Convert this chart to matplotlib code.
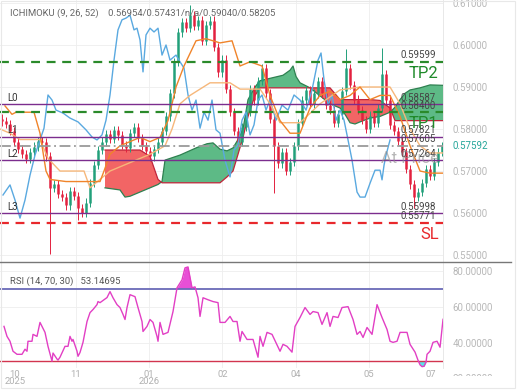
import numpy as np
import matplotlib.pyplot as plt
from matplotlib.lines import Line2D
from matplotlib.patches import Rectangle
from matplotlib.transforms import Bbox, TransformedBbox, blended_transform_factory

plt.rcParams['font.family'] = ['Roboto', 'DejaVu Sans']

# ---------------- data ----------------
first_open = 0.5825
closes = [0.5818, 0.5812, 0.5795, 0.5770, 0.5752, 0.5740, 0.5728, 0.5745, 0.5758, 0.5772,
          0.5768, 0.5735, 0.5660, 0.5668, 0.5645, 0.5638, 0.5618, 0.5652, 0.5640, 0.5612,
          0.5600, 0.5625, 0.5672, 0.5715, 0.5750, 0.5770, 0.5788, 0.5776, 0.5798, 0.5785,
          0.5762, 0.5755, 0.5790, 0.5805, 0.5778, 0.5760, 0.5748, 0.5735, 0.5752, 0.5770,
          0.5795, 0.5830, 0.5885, 0.5960, 0.6030, 0.6055, 0.6040, 0.6072, 0.6045, 0.6060,
          0.6010, 0.6048, 0.6058, 0.5995, 0.5935, 0.5965, 0.5895, 0.5840, 0.5795, 0.5770,
          0.5805, 0.5840, 0.5895, 0.5868, 0.5915, 0.5945, 0.5885, 0.5825, 0.5760, 0.5718,
          0.5745, 0.5700, 0.5722, 0.5760, 0.5815, 0.5868, 0.5892, 0.5860, 0.5885, 0.5915,
          0.5885, 0.5858, 0.5845, 0.5815, 0.5835, 0.5890, 0.5945, 0.5905, 0.5870, 0.5845,
          0.5822, 0.5800, 0.5832, 0.5815, 0.5850, 0.5930, 0.5870, 0.5810, 0.5795, 0.5772,
          0.5745, 0.5705, 0.5668, 0.5638, 0.5650, 0.5672, 0.5705, 0.5688, 0.5722, 0.5745,
          0.5759]
high_idx = [47, 86, 95]
high_val = [0.6095, 0.5990, 0.5992]
low_idx = [12, 19, 68, 103]
low_val = [0.5502, 0.5583, 0.5648, 0.5612]

tenkan_x = [1.25, 3, 4, 8.5, 10, 11.5, 12.5, 16.5, 25, 26, 27.5, 30, 35, 37.5, 40, 42, 44, 46,
            49, 51.5, 55, 58, 60, 62.5, 65.5, 67.5, 70, 72.5, 75, 77.5, 80, 82.5, 85, 87.5,
            90, 92.5, 95, 97.5, 100, 102.5, 105, 107.5, 110.75]
tenkan_y = [0.5855, 0.5835, 0.5840, 0.5840, 0.5790, 0.5700, 0.5680, 0.5675, 0.5675, 0.5700,
            0.5740, 0.5760, 0.5780, 0.5770, 0.5780, 0.5820, 0.5900, 0.5950, 0.6010, 0.6015,
            0.6005, 0.6010, 0.5950, 0.5960, 0.5950, 0.5880, 0.5820, 0.5790, 0.5790, 0.5850,
            0.5880, 0.5890, 0.5870, 0.5880, 0.5900, 0.5870, 0.5880, 0.5880, 0.5830, 0.5760,
            0.5700, 0.5695, 0.5695]

kijun_x = [0, 2.5, 5, 10, 12, 15, 21, 22.5, 25, 27.5, 32.5, 37.5, 41.25, 43, 45, 47.5, 52.5,
           57.5, 60, 65, 67.5, 70, 75, 80, 85, 90, 97.5, 100, 102.5, 105, 107.5, 110.75]
kijun_y = [0.5800, 0.5790, 0.5775, 0.5775, 0.5730, 0.5700, 0.5700, 0.5660, 0.5680, 0.5700,
           0.5720, 0.5740, 0.5760, 0.5800, 0.5860, 0.5880, 0.5910, 0.5910, 0.5895, 0.5895,
           0.5860, 0.5815, 0.5815, 0.5860, 0.5893, 0.5900, 0.5900, 0.5860, 0.5800, 0.5760,
           0.5743, 0.5743]

chikou_x = [0.75, 2.5, 3.75, 5, 6.25, 7.5, 8.75, 10, 11, 12, 13, 14, 15.75, 17.5, 19.5, 21.5,
            23, 24.25, 25.5, 26.5, 27.5, 28.5, 29.5, 30.5, 31.5, 32.5, 33.5, 34.25, 35, 35.75,
            36.5, 37.5, 38.5, 39.5, 40.5, 41.5, 42.5, 44, 45, 46, 47, 48, 49, 50, 51, 52, 53,
            54, 55, 56.25, 57.5, 58.5, 59.5, 60.5, 61.5, 62.5, 63.5, 64.5, 65.5, 66.5, 67.5,
            69, 70.5, 72, 73.5, 75, 76.5, 78, 79.5, 80.25, 81, 82, 83, 84, 85, 86, 87, 88,
            89.25, 90, 91.25, 92.5, 93.75, 95, 95.5, 96, 96.5, 97.5]
chikou_y = [0.5643, 0.5667, 0.5631, 0.5588, 0.5631, 0.5690, 0.5738, 0.5774, 0.5802, 0.5881,
            0.5869, 0.5845, 0.5838, 0.5826, 0.5817, 0.5798, 0.5781, 0.5774, 0.5786, 0.5821,
            0.5881, 0.5964, 0.6036, 0.6060, 0.6064, 0.6071, 0.6036, 0.6040, 0.6012, 0.5936,
            0.6024, 0.6040, 0.6031, 0.6040, 0.5976, 0.6000, 0.5964, 0.5976, 0.5960, 0.5945,
            0.5881, 0.5845, 0.5869, 0.5802, 0.5840, 0.5821, 0.5869, 0.5798, 0.5790, 0.5726,
            0.5686, 0.5750, 0.5762, 0.5821, 0.5840, 0.5786, 0.5810, 0.5869, 0.5881, 0.5845,
            0.5869, 0.5821, 0.5857, 0.5845, 0.5881, 0.5869, 0.5845, 0.5893, 0.5964, 0.5981,
            0.5917, 0.5857, 0.5881, 0.5821, 0.5845, 0.5821, 0.5774, 0.5726, 0.5650, 0.5638,
            0.5638, 0.5671, 0.5702, 0.5702, 0.5679, 0.5714, 0.5738, 0.5774]

cloud_x = [26.25, 30, 31.25, 32.5, 35, 37.5, 39.5, 40.5, 41.25, 45, 49.25, 51.75, 53.25, 55,
           56.75, 58.25, 59.5, 60.75, 62, 63.75, 65, 70.75, 72.5, 73.25, 74, 75, 77.5, 80,
           82.5, 85, 86.25, 87.5, 88.75, 90, 92.5, 95, 97.5, 98.75, 100, 101.25, 102.5, 105,
           107.5, 110.75]
span_a = [0.5660, 0.5655, 0.5638, 0.5640, 0.5650, 0.5660, 0.5668, 0.5675, 0.5726, 0.5738,
          0.5756, 0.5765, 0.5767, 0.5752, 0.5748, 0.5755, 0.5775, 0.5800, 0.5870, 0.5900,
          0.5915, 0.5928, 0.5940, 0.5950, 0.5925, 0.5910, 0.5898, 0.5879, 0.5860, 0.5850,
          0.5835, 0.5815, 0.5812, 0.5817, 0.5826, 0.5830, 0.5840, 0.5852, 0.5870, 0.5885,
          0.5893, 0.5898, 0.5905, 0.5904]
span_b = [0.5750, 0.5750, 0.5750, 0.5750, 0.5750, 0.5735, 0.5680, 0.5672, 0.5672, 0.5672,
          0.5672, 0.5672, 0.5672, 0.5672, 0.5686, 0.5700, 0.5740, 0.5780, 0.5830, 0.5880,
          0.5898, 0.5898, 0.5898, 0.5898, 0.5898, 0.5898, 0.5898, 0.5898, 0.5898, 0.5870,
          0.5870, 0.5870, 0.5870, 0.5870, 0.5870, 0.5868, 0.5850, 0.5820, 0.5820, 0.5820,
          0.5820, 0.5820, 0.5820, 0.5820]

level_names = ['L0', 'L1', 'L2', 'L3']
level_vals = [0.58587, 0.57821, 0.57264, 0.55998]
tp_names = ['TP2', 'TP1']
tp_vals = [0.59599, 0.58400]
sl_val = 0.55771
at_price = 0.57605
last_price = 0.57592
header = 'ICHIMOKU (9, 26, 52)    0.56954/0.57431/n/a/0.59040/0.58205'

rsi_x = [1, 1.75, 2.5, 3.25, 4.25, 5.5, 6.25, 6.75, 7, 8, 8.25, 9.25, 10, 11.25, 12, 13, 13.25,
         14.25, 14.5, 15, 16.25, 17, 17.5, 18, 18.25, 19.25, 19.5, 20, 20.75, 21.75, 22.5,
         23.25, 24.25, 24.5, 25, 26.75, 27.5, 28.25, 29.25, 30, 30.75, 31.25, 31.75, 32.5,
         33.75, 34.5, 35.5, 35.75, 36.75, 37.5, 38.25, 39.25, 39.5, 40, 40.75, 42, 43.25,
         44.25, 45.5, 46.25, 47, 48, 48.75, 49.5, 50, 50.75, 52, 53.25, 54.5, 55, 56.25, 57.5,
         58.25, 59.25, 60, 60.5, 61.75, 63.25, 64.5, 65, 65.75, 66.75, 68, 70, 70.75, 71.75,
         73, 73.75, 75, 76.25, 77.5, 78.25, 79.5, 80.5, 81.75, 82.5, 83.25, 84.5, 85.5, 87,
         88.25, 89.25, 90, 90.75, 91.75, 93, 94.25, 95.5, 96.75, 97.5, 98.25, 99.25, 100,
         101.75, 102.5, 103.75, 104.5, 105, 105.5, 106, 106.5, 106.75, 107.5, 108.25, 109.25,
         110, 110.75]
rsi_v = [49.2, 43.7, 41.0, 35.5, 33.8, 33.8, 36.6, 35.5, 41.0, 41.0, 44.8, 43.7, 51.4, 45.9,
         38.2, 30.0, 34.5, 31.2, 30.6, 32.2, 38.2, 38.2, 43.7, 41.0, 42.0, 35.5, 32.7, 34.8,
         40.4, 51.9, 56.8, 58.5, 61.2, 62.9, 62.3, 65.1, 68.4, 65.0, 61.2, 59.6, 55.8, 53.0,
         59.6, 66.7, 65.6, 59.6, 51.9, 46.4, 49.2, 53.0, 51.4, 43.7, 41.0, 51.4, 44.8, 45.9,
         57.4, 70.5, 74.9, 81.5, 82.0, 70.5, 71.0, 65.0, 54.7, 65.0, 63.9, 62.9, 62.3, 51.4,
         51.4, 54.7, 51.9, 51.9, 41.0, 46.4, 42.0, 42.0, 32.2, 43.7, 38.2, 45.9, 44.8, 35.5,
         39.3, 38.2, 35.0, 49.2, 54.1, 59.6, 55.8, 57.4, 56.8, 50.3, 56.8, 49.2, 54.7, 54.1,
         59.6, 60.1, 53.0, 44.8, 46.4, 43.1, 48.6, 44.8, 61.2, 54.1, 47.5, 41.0, 40.4, 41.0,
         45.9, 45.9, 39.3, 35.0, 30.5, 28.0, 27.0, 27.2, 29.5, 33.8, 35.5, 40.4, 41.0, 37.7,
         53.1]
rsi_label = 'RSI (14, 70, 30)   53.14695'

tick_pos = [3.75, 19, 37.25, 55.6, 74, 92.25, 107.75]
tick_lab = ['10\n2025', '11', '01\n2026', '02', '04', '05', '07']
grid_pos = [19, 37.25, 55.6, 74, 92.25]
price_ticks = [0.55, 0.56, 0.57, 0.58, 0.59, 0.60, 0.61]
rsi_ticks = [40, 60, 80]

# ---------------- figure ----------------
fig = plt.figure(figsize=(5.2, 3.9), dpi=100)
ax = fig.add_axes([0, 0.328, 0.852, 0.672])
ax2 = fig.add_axes([0, 0.056, 0.852, 0.270], sharex=ax)

green_c = '#22a07a'
red_c = '#e3213f'

# cloud
ca = np.array(span_a)
cb = np.array(span_b)
ax.fill_between(cloud_x, ca, cb, where=ca >= cb, interpolate=True, color='#5dba86', lw=0, zorder=2)
ax.fill_between(cloud_x, ca, cb, where=ca < cb, interpolate=True, color='#f26565', lw=0, zorder=2)
ax.plot(cloud_x, span_a, color='#2e8050', lw=0.9, zorder=2.5)
ax.plot(cloud_x, span_b, color='#c0243a', lw=0.9, zorder=2.5)

# candles
c = np.array(closes)
o = np.array([first_open] + closes[:-1])
xc = np.arange(len(closes)) + 0.5
hi = np.maximum(o, c) + 0.0010
lo = np.minimum(o, c) - 0.0010
hi[high_idx] = high_val
lo[low_idx] = low_val
up = c >= o
for m, col in [(up, green_c), (~up, red_c)]:
    ax.vlines(xc[m], lo[m], hi[m], color=col, lw=0.7, zorder=3)
    ax.vlines(xc[m], o[m], c[m], color=col, lw=1.8, zorder=3)

# ichimoku lines
ax.plot(chikou_x, chikou_y, color='#5aa9e0', lw=1.0, zorder=4)
ax.plot(kijun_x, kijun_y, color='#f6b77a', lw=1.0, zorder=4)
ax.plot(tenkan_x, tenkan_y, color='#f0842a', lw=1.0, zorder=4)

# levels
for v in level_vals:
    ax.axhline(v, color='#7b2d8e', lw=1.0, zorder=5)
for v in tp_vals:
    ax.axhline(v, color='#2a8a2a', lw=1.6, ls=(0, (4, 3)), zorder=5)
ax.axhline(sl_val, color='#e8282c', lw=1.6, ls=(0, (4, 3)), zorder=5)
ax.axhline(at_price, color='#9a9a9a', lw=1.3, ls=(0, (6, 2, 1, 2)), zorder=5)

rt = blended_transform_factory(ax.transAxes, ax.transData)
for v in level_vals + tp_vals + [sl_val, at_price]:
    ax.annotate(f'{v:.5f}', (0.984, v), xycoords=rt, xytext=(0, 1), textcoords='offset points',
                ha='right', va='bottom', fontsize=7, color='#444444', zorder=6)
for name, v in zip(level_names, level_vals):
    ax.annotate(name, (0.016, v), xycoords=rt, xytext=(0, 1), textcoords='offset points',
                ha='left', va='bottom', fontsize=7, color='#333333', zorder=6)
for name, v in zip(tp_names, tp_vals):
    ax.annotate(name, (0.99, v), xycoords=rt, xytext=(0, -3), textcoords='offset points',
                ha='right', va='top', fontsize=12, color='#1f8a2a', zorder=6)
ax.annotate('SL', (0.99, sl_val), xycoords=rt, xytext=(0, -3), textcoords='offset points',
            ha='right', va='top', fontsize=12, color='#e8282c', zorder=6)
ax.annotate('At Price', (0.99, at_price), xycoords=rt, xytext=(0, -4), textcoords='offset points',
            ha='right', va='top', fontsize=12, color='#8a8a8a', alpha=0.6, zorder=6)
ax.annotate(f'{last_price:.5f}', (1.0, last_price), xycoords=rt, xytext=(7, 0),
            textcoords='offset points', ha='left', va='center', fontsize=7, color='#26a69a')

ax.text(0.022, 0.95, header, transform=ax.transAxes, fontsize=6.8, color='#666666',
        ha='left', va='center', zorder=6)

ax.set_xlim(0, 110.75)
ax.set_ylim(0.54833, 0.61071)
ax.yaxis.tick_right()
ax.set_yticks(price_ticks)
ax.set_yticklabels([f'{v:.5f}' for v in price_ticks])
ax.tick_params(axis='y', length=0, pad=7, labelsize=7, labelcolor='#b8b8b8')
ax.tick_params(axis='x', length=0, labelbottom=False)
for y in price_ticks:
    ax.axhline(y, color='#eeeeee', lw=0.6, zorder=0)
for x in grid_pos:
    ax.axvline(x, color='#eeeeee', lw=0.6, zorder=0)
for s in ['top', 'left', 'bottom']:
    ax.spines[s].set_visible(False)
ax.spines['right'].set_color('#e4e4e4')
ax.spines['right'].set_linewidth(0.6)

# ---------------- RSI ----------------
rv = np.array(rsi_v)
ax2.fill_between(rsi_x, rv, 70, where=rv > 70, interpolate=True, color='#e84fd6', lw=0, zorder=2)
ax2.fill_between(rsi_x, rv, 30, where=rv < 30, interpolate=True, color='#5ce1e6', lw=0, zorder=2)
ax2.plot(rsi_x, rsi_v, color='#e23fc4', lw=1.0, zorder=3)
ax2.axhline(70, color='#6a6ab8', lw=1.3, zorder=2.5)
ax2.axhline(30, color='#d2354f', lw=1.0, zorder=2.5)
for y in rsi_ticks:
    ax2.axhline(y, color='#eeeeee', lw=0.6, zorder=0)
for x in grid_pos:
    ax2.axvline(x, color='#eeeeee', lw=0.6, zorder=0)
ax2.text(0.022, 0.83, rsi_label, transform=ax2.transAxes, fontsize=6.8, color='#555555',
         ha='left', va='center')
ax2.set_ylim(26.16, 84.25)
ax2.yaxis.tick_right()
ax2.set_yticks(rsi_ticks)
ax2.set_yticklabels([f'{v:.5f}' for v in rsi_ticks])
ax2.tick_params(axis='y', length=0, pad=7, labelsize=7, labelcolor='#b8b8b8')
ax2.set_xticks(tick_pos)
ax2.set_xticklabels(tick_lab)
ax2.tick_params(axis='x', length=0, pad=1, labelsize=6.8, labelcolor='#b0b0b0')
for lab in ax2.get_xticklabels():
    lab.set_linespacing(0.85)
t20 = ax2.annotate('20.00000', (1.0, 20), xycoords=blended_transform_factory(ax2.transAxes, ax2.transData),
                   xytext=(7, 0), textcoords='offset points', ha='left', va='center',
                   fontsize=7, color='#b8b8b8', annotation_clip=False)
t20.set_clip_box(TransformedBbox(Bbox([[0.85, 0.035], [1.0, 0.33]]), fig.transFigure))
t20.set_clip_on(True)
for s in ['top', 'left', 'bottom']:
    ax2.spines[s].set_visible(False)
ax2.spines['right'].set_color('#e4e4e4')
ax2.spines['right'].set_linewidth(0.6)

# panel separator and outer frame
fig.add_artist(Line2D([0, 0.982], [0.327, 0.327], transform=fig.transFigure, color='#777777', lw=1.0))
fig.add_artist(Rectangle((0.001, 0.004), 0.989, 0.994, transform=fig.transFigure, fill=False,
                         edgecolor='#e8e8e8', lw=0.8))

fig.savefig('out.png', dpi=100)
